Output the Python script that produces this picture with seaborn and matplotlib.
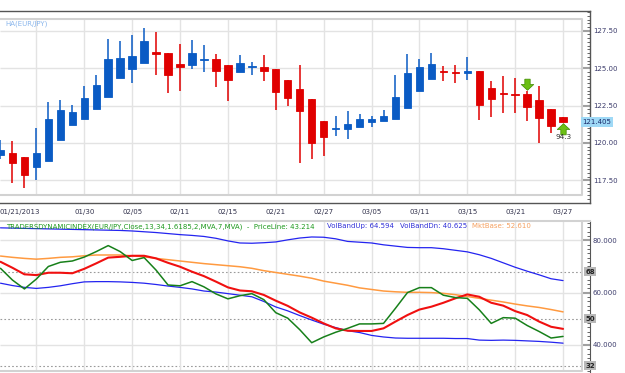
import numpy as np
import pandas as pd
import seaborn as sns
import matplotlib.pyplot as plt
from matplotlib.ticker import MultipleLocator
from matplotlib.path import Path
from matplotlib.transforms import ScaledTranslation, blended_transform_factory

#%% data (Heikin-Ashi EUR/JPY, one candle per slot)
opens = [119.17, 119.35, 119.04, 118.41, 118.81, 120.20, 121.17, 121.62, 122.29, 123.05,
         124.34, 124.96, 125.36, 126.10, 126.03, 125.30, 125.18, 125.57, 125.61, 125.21,
         124.76, 125.08, 125.07, 124.96, 124.23, 123.60, 122.91, 121.46, 120.96, 120.95,
         121.09, 121.38, 121.44, 121.62, 122.36, 123.49, 124.29, 124.77, 124.70, 124.69,
         124.80, 123.69, 123.32, 123.23, 123.25, 122.85, 122.29, 121.73]
closes = [119.53, 118.68, 117.83, 119.30, 121.58, 122.20, 122.07, 123.00, 123.85, 125.58,
          125.70, 125.79, 126.81, 125.92, 124.54, 125.10, 125.99, 125.59, 124.83, 124.23,
          125.34, 125.10, 124.83, 123.42, 123.02, 122.15, 120.02, 120.42, 120.98, 121.24,
          121.60, 121.58, 121.80, 123.07, 124.67, 125.05, 125.25, 124.75, 124.68, 124.83,
          122.56, 122.91, 123.30, 123.21, 122.42, 121.69, 121.13, 121.38]
highs = [120.20, 120.13, 119.04, 121.02, 122.73, 122.87, 122.51, 123.80, 124.56, 126.92,
         126.83, 127.19, 127.68, 127.41, 126.03, 126.61, 126.88, 126.52, 125.94, 125.21,
         125.90, 125.41, 125.90, 124.96, 124.23, 125.21, 122.91, 121.46, 121.78, 122.15,
         121.93, 121.80, 122.20, 124.56, 125.94, 125.61, 126.01, 125.16, 125.21, 125.72,
         124.80, 124.11, 124.47, 124.34, 123.45, 123.80, 122.29, 121.73]
lows = [118.90, 117.30, 117.00, 117.52, 118.81, 120.20, 121.17, 121.62, 122.29, 123.05,
        124.34, 124.03, 125.36, 124.52, 123.36, 123.47, 124.96, 124.72, 123.76, 122.82,
        124.76, 124.54, 124.16, 122.20, 122.49, 118.68, 118.90, 119.15, 120.46, 120.28,
        121.09, 121.09, 121.44, 121.62, 122.36, 123.49, 124.29, 124.14, 124.03, 124.20,
        121.53, 121.75, 121.98, 121.98, 121.46, 120.02, 120.68, 121.38]
last_price = 121.405

tick_pos = [3, 7, 11, 15, 19, 23, 27, 31, 35, 39, 43, 47]
tick_labels = ["01/21/2013", "01/30", "02/05", "02/11", "02/15", "02/21",
               "02/27", "03/05", "03/11", "03/15", "03/21", "03/27"]
price_ticks = [117.5, 120.0, 122.5, 125.0, 127.5]

# traders dynamic index
price_line = [69.3, 64.8, 61.4, 65.2, 70.0, 71.6, 72.1, 73.6, 75.7, 78.0,
              75.7, 72.3, 73.4, 68.6, 62.9, 62.6, 64.2, 62.2, 59.5, 57.6,
              58.8, 59.6, 57.3, 52.3, 50.2, 45.8, 40.8, 43.0, 44.8, 46.3,
              48.0, 48.0, 48.2, 54.0, 60.0, 61.9, 61.9, 59.0, 58.1, 57.8,
              53.4, 48.2, 50.4, 50.2, 47.4, 45.1, 42.6, 43.214]
signal_line = [71.8, 69.5, 67.0, 66.7, 67.6, 67.6, 67.4, 69.1, 71.2, 73.4,
               73.7, 74.1, 74.1, 73.1, 71.4, 69.9, 68.0, 66.3, 64.2, 62.0,
               60.8, 60.5, 59.1, 56.9, 54.9, 52.4, 50.4, 48.2, 46.3, 45.4,
               45.3, 45.3, 46.3, 48.9, 51.4, 53.5, 54.6, 56.1, 57.8, 59.3,
               58.4, 56.1, 55.0, 52.9, 51.4, 48.9, 46.9, 46.1]
mkt_base = [74.0, 73.5, 73.1, 72.8, 73.1, 73.5, 73.7, 74.1, 74.4, 74.4,
            74.4, 74.1, 73.7, 73.1, 72.6, 72.1, 71.6, 71.1, 70.7, 70.3,
            69.9, 69.3, 68.4, 67.7, 67.0, 66.3, 65.5, 64.4, 63.6, 62.8,
            61.8, 61.2, 60.6, 60.3, 60.1, 60.1, 60.0, 59.7, 59.2, 58.5,
            57.8, 57.1, 56.4, 55.6, 54.9, 54.3, 53.5, 52.61]
band_up = [84.8, 84.7, 84.6, 84.5, 84.4, 84.3, 84.2, 84.1, 84.0, 83.9,
           83.8, 83.6, 83.3, 83.0, 82.6, 82.2, 81.9, 81.5, 80.8, 79.8,
           79.0, 78.9, 79.1, 79.4, 80.2, 80.9, 81.3, 81.2, 80.6, 79.6,
           79.3, 79.0, 78.3, 77.8, 77.3, 77.2, 77.2, 76.8, 76.2, 75.6,
           74.5, 73.1, 71.4, 69.7, 68.2, 66.8, 65.3, 64.594]
band_dn = [63.6, 62.7, 62.0, 61.6, 62.0, 62.6, 63.4, 64.1, 64.2, 64.2,
           64.1, 63.9, 63.6, 63.1, 62.5, 62.0, 61.4, 60.6, 60.2, 59.6,
           59.0, 58.4, 56.6, 54.5, 53.0, 51.2, 49.5, 47.9, 46.6, 45.4,
           44.7, 43.6, 43.0, 42.6, 42.5, 42.5, 42.5, 42.5, 42.4, 42.4,
           41.8, 41.7, 41.8, 41.7, 41.5, 41.3, 41.0, 40.625]
tdi_ticks = [40, 60, 80]
tdi_levels = [68, 50, 32]

sig_idx = [44, 47]
sig_dir = ["down", "up"]
sig_text = ["", "94.3"]

#%% figure
sns.set_style('white')
plt.rcParams['font.family'] = ['DejaVu Sans']

W, H = 625, 373
fig = plt.figure(figsize=(W / 100, H / 100), dpi=100)


def box(l, t, r, b):
    return [l / W, 1 - b / H, (r - l) / W, (b - t) / H]


ax1 = fig.add_axes(box(0, 11, 590, 203))
ax2 = fig.add_axes(box(0, 221, 590, 373))

x = np.arange(len(opens))
xl, xr, xin = -0.04, 49.25, 48.58
grid_c = '#e3e3e3'
frame_c = '#d2d2d2'

# ---- price panel ----
ax1.set_xlim(xl, xr)
ax1.set_ylim(115.98, 128.82)
ytop, ybot = 128.28, 116.52
ax1.hlines(price_ticks, xl, xin, color=grid_c, lw=1, zorder=0)
ax1.vlines(tick_pos, ybot, ytop, color=grid_c, lw=1, zorder=0)
ax1.plot([xl, xin, xin, xl], [ytop, ytop, ybot, ybot], color=frame_c, lw=1.5, zorder=1)

o = np.array(opens); c = np.array(closes)
cols = np.where(c >= o, '#0a5bc4', '#e00000')
ax1.vlines(x, lows, highs, colors=cols, lw=1.1, zorder=2)
body_lo = np.minimum(o, c)
body_h = np.maximum(np.abs(c - o), 0.05)
ax1.bar(x, body_h, bottom=body_lo, width=0.62, color=cols, edgecolor=cols, lw=0.6, zorder=3)

# signal arrows
arrow_dn = Path([(-0.3, 0.6), (0.3, 0.6), (0.3, 0.0), (0.7, 0.0), (0, -0.65),
                 (-0.7, 0.0), (-0.3, 0.0), (-0.3, 0.6)])
arrow_up = Path([(vx, -vy) for vx, vy in arrow_dn.vertices])
for i, d, t in zip(sig_idx, sig_dir, sig_text):
    if d == "down":
        ax1.plot(i, highs[i] + 0.48, marker=arrow_dn, ms=9, color='#6cbf14',
                 mec='#3f8a00', mew=0.5, zorder=5)
    else:
        ax1.plot(i, lows[i] - 0.48, marker=arrow_up, ms=9, color='#6cbf14',
                 mec='#3f8a00', mew=0.5, zorder=5)
    if t:
        ax1.text(i, lows[i] - 1.0, t, ha='center', va='center', fontsize=5.2,
                 color='#333333', zorder=5)

ax1.yaxis.tick_right()
ax1.set_yticks(price_ticks, ["%.2f" % p for p in price_ticks])
ax1.yaxis.set_minor_locator(MultipleLocator(0.25))
ax1.tick_params(axis='y', which='major', direction='in', length=5.8, width=1.5,
                color='#a0a0a0', labelcolor='#3b3b6b', labelsize=5, pad=2)
ax1.tick_params(axis='y', which='minor', direction='in', length=2.2, width=0.7, color='#666666')

ax1.set_xticks(tick_pos, tick_labels)
ax1.xaxis.set_minor_locator(MultipleLocator(1))
ax1.tick_params(axis='x', which='major', direction='in', length=3.6, width=0.8,
                color='#444444', labelcolor='#33334d', labelsize=5, pad=4.5)
ax1.tick_params(axis='x', which='minor', direction='in', length=2.0, width=0.7, color='#444444')
first = ax1.get_xticklabels()[0]
first.set_ha('right')
first.set_transform(first.get_transform() + ScaledTranslation(4 / 100, 0, fig.dpi_scale_trans))

for s in ['top', 'right', 'bottom']:
    ax1.spines[s].set_color('#555555')
    ax1.spines[s].set_linewidth(1)
ax1.spines['left'].set_visible(False)

bt = blended_transform_factory(ax1.transAxes, ax1.transData)
ax1.text(0.9875, last_price, "%.3f" % last_price, transform=bt, ha='left', va='center',
         fontsize=5, color='#1a2a6a', clip_on=False, zorder=6,
         bbox=dict(fc='#9fd9f6', ec='none', pad=1.2))

fig.text(5 / W, 1 - 24 / H, "HA(EUR/JPY)", ha='left', va='center', fontsize=5,
         color='#8ab6ec')

# ---- TDI panel ----
ax2.set_xlim(xl, xr)
ax2.set_ylim(29.2, 87.42)
ybot2 = 29.97
ax2.hlines(tdi_ticks, xl, xin, color=grid_c, lw=1, zorder=0)
ax2.hlines(tdi_levels, xl, xin, color='#9a9a9a', lw=0.8, linestyles=(0, (1.5, 2)), zorder=0)
ax2.vlines(tick_pos, ybot2, 87.42, color=grid_c, lw=1, zorder=0)
ax2.plot([xin, xin, xl], [87.42, ybot2, ybot2], color=frame_c, lw=1.5, zorder=1)

df = pd.DataFrame({'idx': x, 'PriceLine': price_line, 'Signal': signal_line,
                   'MktBase': mkt_base, 'VolBandUp': band_up, 'VolBandDn': band_dn})
line_style = [('VolBandUp', '#2424f0', 0.9), ('VolBandDn', '#2424f0', 0.9),
              ('MktBase', '#ff9a40', 1.1), ('Signal', '#f01010', 1.5),
              ('PriceLine', '#17801a', 1.1)]
for col, colr, lw in line_style:
    sns.lineplot(data=df, x='idx', y=col, color=colr, lw=lw, ax=ax2, zorder=3)
ax2.set_xlabel('')
ax2.set_ylabel('')

ax2.yaxis.tick_right()
ax2.set_yticks(tdi_ticks, ["%.3f" % v for v in tdi_ticks])
ax2.yaxis.set_minor_locator(MultipleLocator(5 / 3))
ax2.tick_params(axis='y', which='major', direction='in', length=5.8, width=1.5,
                color='#a0a0a0', labelcolor='#3b3b6b', labelsize=5, pad=2)
ax2.tick_params(axis='y', which='minor', direction='in', length=2.2, width=0.7, color='#666666')
ax2.set_xticks(tick_pos)
ax2.tick_params(axis='x', which='both', length=0, labelbottom=False)
ax2.spines['right'].set_color('#555555')
ax2.spines['top'].set_color(frame_c)
ax2.spines['top'].set_linewidth(1.5)
ax2.spines['left'].set_visible(False)
ax2.spines['bottom'].set_visible(False)

bt2 = blended_transform_factory(ax2.transAxes, ax2.transData)
for lv in tdi_levels:
    ax2.text(0.992, lv, "%d" % lv, transform=bt2, ha='left', va='center', fontsize=5,
             color='#222222', fontweight='bold', clip_on=False, zorder=6,
             bbox=dict(fc='#b8b8b8', ec='none', pad=1.0))

hy = 1 - 226.5 / H
fig.text(6 / W, hy, "TRADERSDYNAMICINDEX(EUR/JPY,Close,13,34,1.6185,2,MVA,7,MVA)  -  PriceLine: 43.214",
         ha='left', va='center', fontsize=5, color='#1f9a1f')
fig.text(327 / W, hy, "VolBandUp: 64.594", ha='left', va='center', fontsize=5, color='#3030d8')
fig.text(400 / W, hy, "VolBandDn: 40.625", ha='left', va='center', fontsize=5, color='#3030d8')
fig.text(472 / W, hy, "MktBase: 52.610", ha='left', va='center', fontsize=5, color='#f5a060')

plt.savefig('out.png', dpi=100)
